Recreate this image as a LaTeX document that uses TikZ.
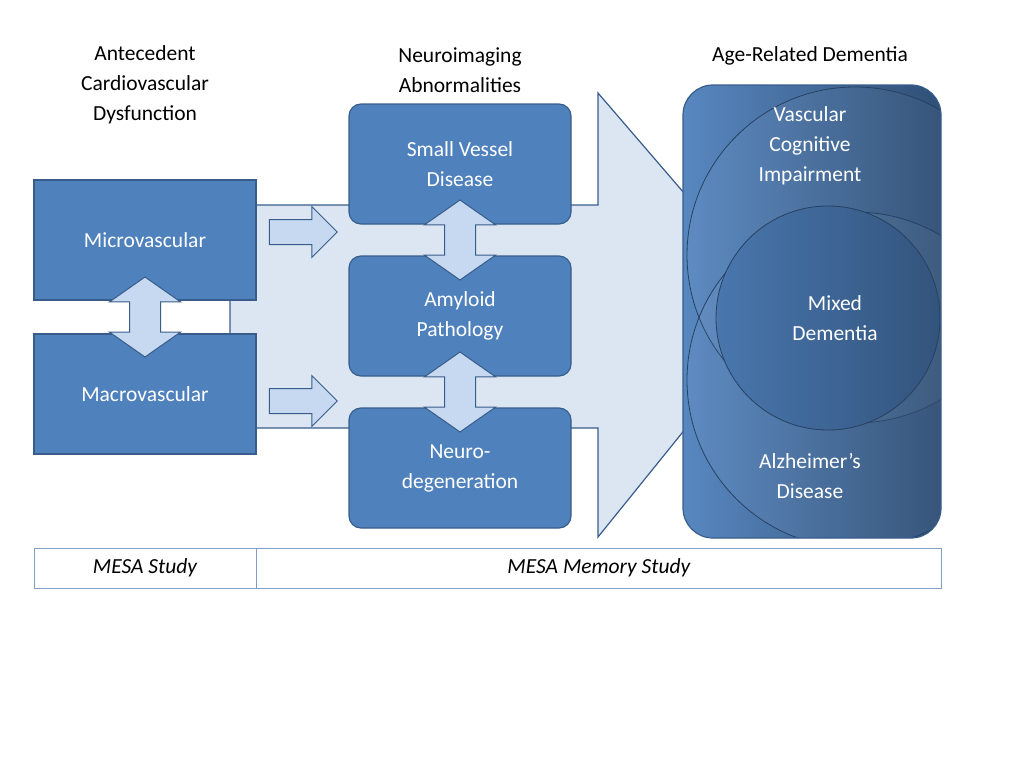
\documentclass[tikz,border=0pt]{standalone}
\usepackage{fontspec}
\setmainfont{Carlito}
\usetikzlibrary{positioning,shapes.arrows,calc}
\definecolor{boxblue}{HTML}{4F81BD}
\definecolor{edgeblue}{HTML}{385D8A}
\definecolor{paleblue}{HTML}{DCE6F2}
\definecolor{arrowblue}{HTML}{C6D9F1}
\definecolor{tablerule}{HTML}{7F9FC8}
\tikzset{
  box/.style={draw=edgeblue, line width=1.2pt, fill=boxblue, text=white, minimum width=222pt, minimum height=120pt, align=center, font=\fontsize{21.5}{30}\selectfont},
  rbox/.style={box, rounded corners=12pt},
  head/.style={align=center, font=\fontsize{21.5}{30}\selectfont},
  dbl/.style={double arrow, draw=edgeblue, line width=1pt, fill=arrowblue, rotate=90, inner sep=15pt, minimum width=70pt, minimum height=80pt, double arrow head extend=20pt, double arrow tip angle=110},
  sgl/.style={single arrow, draw=edgeblue, line width=1pt, fill=arrowblue, inner sep=12pt, minimum width=50pt, minimum height=68pt, single arrow head extend=13pt},
  cell/.style={draw=tablerule, minimum height=40pt, font=\fontsize{21.5}{24}\selectfont\itshape},
}
\begin{document}
\begin{tikzpicture}[x=1pt,y=-1pt]
\useasboundingbox (0,0) rectangle (1024,768);

% big arrow
\draw[edgeblue, line width=1.2pt, fill=paleblue] (230,205) -- (598,205) -- (598,93) -- (783,308) -- (598,537) -- (598,428) -- (230,428) -- cycle;

% dementia panel
\begin{scope}
\clip[rounded corners=30pt] (683,85) rectangle (941,538);
\shade[left color=boxblue!95!white, right color=edgeblue!85!black] (683,85) rectangle (941,538);
\draw[edgeblue!70!black, line width=0.8pt, fill=white, fill opacity=0.04] (855,255) circle (168pt);
\draw[edgeblue!70!black, line width=0.8pt, fill=white, fill opacity=0.04] (855,380) circle (168pt);
\shade[left color=boxblue!92!black, right color=edgeblue!90!black] (828,318) circle (112pt);
\draw[edgeblue!70!black, line width=0.8pt] (828,318) circle (112pt);
\end{scope}
\draw[edgeblue, line width=1.2pt, rounded corners=30pt] (683,85) rectangle (941,538);
\node[head, text=white] (vci) at (810,146) {Vascular\\Cognitive\\Impairment};
\node[head, text=white] (mixed) at (835,318) {Mixed\\Dementia};
\node[head, text=white] (ad) at (810,476) {Alzheimer’s\\Disease};

% headers
\node[head] (hcard) at (145,85) {Antecedent\\Cardiovascular\\Dysfunction};
\node[head] (himg) at (460,70) {Neuroimaging\\Abnormalities};
\node[head] (hdem) at (810,56) {Age-Related Dementia};

% boxes
\node[box] (micro) at (145,240) {Microvascular};
\node[box] (macro) at (145,394) {Macrovascular};
\node[rbox] (svd) at (460,164) {Small Vessel\\Disease};
\node[rbox] (amy) at (460,316) {Amyloid\\Pathology};
\node[rbox] (neuro) at (460,468) {Neuro-\\degeneration};

% arrows
\node[dbl] (a1) at ($(micro.south)!0.5!(macro.north)$) {};
\node[dbl] (a2) at ($(svd.south)!0.5!(amy.north)$) {};
\node[dbl] (a3) at ($(amy.south)!0.5!(neuro.north)$) {};
\node[sgl] (s1) at (297,232) {};
\node[sgl] (s2) at (297,401) {};

% table
\node[cell, minimum width=222pt] (mesa) at (145,568) {MESA Study};
\node[cell, minimum width=685pt, right=0pt of mesa] (mms) {MESA Memory Study};
\end{tikzpicture}
\end{document}
